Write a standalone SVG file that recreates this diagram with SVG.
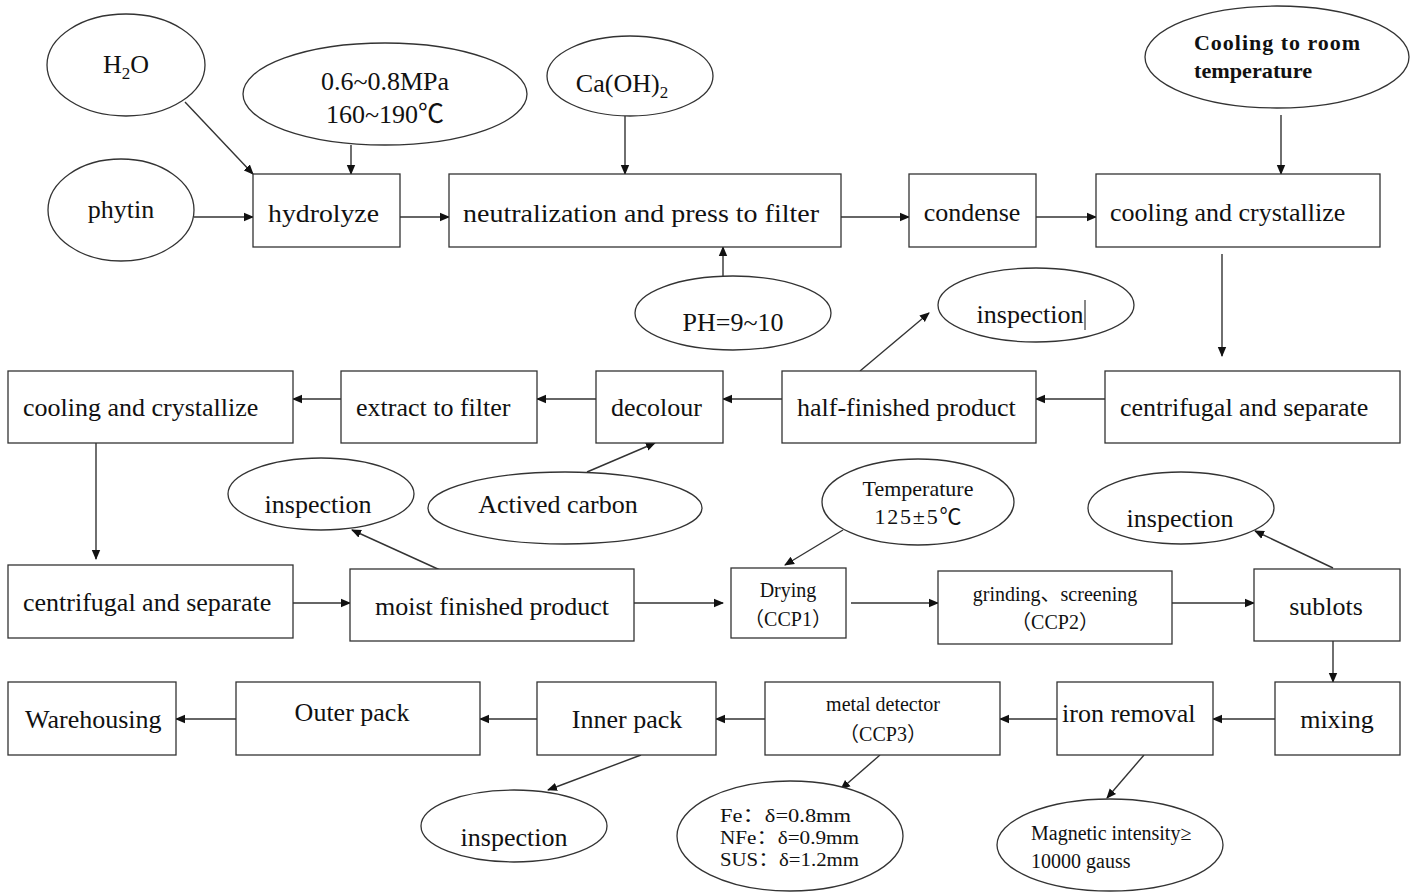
<svg xmlns="http://www.w3.org/2000/svg" width="1418" height="892" viewBox="0 0 1418 892">
<style>
.n{fill:#fff;stroke:#333;stroke-width:1.3}
.t{font-family:"Liberation Serif","Noto Sans CJK SC",serif;font-size:26px;fill:#111;text-anchor:middle}
.s{font-size:20px}
.m{font-size:22px}
.f{font-size:19px}
.l{text-anchor:start}
.b{font-weight:bold}
.c line{stroke:#333;stroke-width:1.4;marker-end:url(#a)}
</style>
<defs>
<marker id="a" markerWidth="10" markerHeight="10" refX="9" refY="5" orient="auto" markerUnits="userSpaceOnUse">
<path d="M0,0.8 L10,5 L0,9.2 Z" fill="#111"/>
</marker>
</defs>
<rect width="1418" height="892" fill="#fff"/>
<g class="c" id="connectors">
<line x1="185" y1="102" x2="253" y2="174"/>
<line x1="351" y1="145" x2="351" y2="174"/>
<line x1="194" y1="217" x2="253" y2="217"/>
<line x1="400" y1="217" x2="449" y2="217"/>
<line x1="625" y1="116" x2="625" y2="174"/>
<line x1="723" y1="276" x2="723" y2="247"/>
<line x1="841" y1="217" x2="909" y2="217"/>
<line x1="1036" y1="217" x2="1096" y2="217"/>
<line x1="1281" y1="115" x2="1281" y2="174"/>
<line x1="1222" y1="254" x2="1222" y2="356"/>
<line x1="1105" y1="399" x2="1036" y2="399"/>
<line x1="782" y1="399" x2="723" y2="399"/>
<line x1="596" y1="399" x2="537" y2="399"/>
<line x1="341" y1="399" x2="293" y2="399"/>
<line x1="860" y1="371" x2="929" y2="313"/>
<line x1="587" y1="472" x2="655" y2="443"/>
<line x1="96" y1="443" x2="96" y2="559"/>
<line x1="293" y1="603" x2="350" y2="603"/>
<line x1="440" y1="570" x2="352" y2="530"/>
<line x1="634" y1="603" x2="723" y2="603"/>
<line x1="843" y1="530" x2="785" y2="565"/>
<line x1="851" y1="603" x2="938" y2="603"/>
<line x1="1172" y1="603" x2="1254" y2="603"/>
<line x1="1333" y1="568" x2="1255" y2="531"/>
<line x1="1333" y1="641" x2="1333" y2="682"/>
<line x1="1275" y1="719" x2="1213" y2="719"/>
<line x1="1057" y1="719" x2="1000" y2="719"/>
<line x1="765" y1="719" x2="716" y2="719"/>
<line x1="537" y1="719" x2="480" y2="719"/>
<line x1="236" y1="719" x2="176" y2="719"/>
<line x1="641" y1="755" x2="548" y2="790"/>
<line x1="880" y1="755" x2="841" y2="789"/>
<line x1="1144" y1="755" x2="1107" y2="798"/>
</g>
<g id="h2o"><ellipse class="n" cx="126" cy="65" rx="79" ry="51"/><text class="t" x="126" y="73">H<tspan font-size="17" dy="6">2</tspan><tspan dy="-6">O</tspan></text></g>
<g id="phytin"><ellipse class="n" cx="121" cy="210" rx="73" ry="51"/><text class="t" x="121" y="218">phytin</text></g>
<g id="pressure"><ellipse class="n" cx="385" cy="94" rx="142" ry="51"/><text class="t" x="385" y="90">0.6~0.8MPa</text><text class="t" x="385" y="123">160~190℃</text></g>
<g id="caoh"><ellipse class="n" cx="630" cy="76" rx="83" ry="40"/><text class="t" x="622" y="92">Ca(OH)<tspan font-size="17" dy="6">2</tspan></text></g>
<g id="hydrolyze"><rect class="n" x="253" y="174" width="147" height="73"/><text class="t l" x="268" y="222" textLength="111" lengthAdjust="spacingAndGlyphs">hydrolyze</text></g>
<g id="neutralization"><rect class="n" x="449" y="174" width="392" height="73"/><text class="t l" x="463" y="222" textLength="356" lengthAdjust="spacingAndGlyphs">neutralization and press to filter</text></g>
<g id="ph"><ellipse class="n" cx="733" cy="313" rx="98" ry="37"/><text class="t" x="733" y="331">PH=9~10</text></g>
<g id="condense"><rect class="n" x="909" y="174" width="127" height="73"/><text class="t" x="972" y="221">condense</text></g>
<g id="cooling1"><rect class="n" x="1096" y="174" width="284" height="73"/><text class="t l" x="1110" y="221">cooling and crystallize</text></g>
<g id="roomtemp"><ellipse class="n" cx="1277" cy="57" rx="132" ry="51"/><text class="t m l b" x="1194" y="50" textLength="166" lengthAdjust="spacing">Cooling to room</text><text class="t m l b" x="1194" y="78" textLength="118" lengthAdjust="spacingAndGlyphs">temperature</text></g>
<g id="inspection1"><ellipse class="n" cx="1036" cy="305" rx="98" ry="37"/><text class="t" x="1030" y="323">inspection</text><line x1="1085" y1="300" x2="1085" y2="330" stroke="#111" stroke-width="1"/></g>
<g id="centrifugal1"><rect class="n" x="1105" y="371" width="295" height="72"/><text class="t l" x="1120" y="416">centrifugal and separate</text></g>
<g id="halffinished"><rect class="n" x="782" y="371" width="254" height="72"/><text class="t l" x="797" y="416">half-finished product</text></g>
<g id="decolour"><rect class="n" x="596" y="371" width="127" height="72"/><text class="t l" x="611" y="416">decolour</text></g>
<g id="extract"><rect class="n" x="341" y="371" width="196" height="72"/><text class="t l" x="356" y="416">extract to filter</text></g>
<g id="cooling2"><rect class="n" x="8" y="371" width="285" height="72"/><text class="t l" x="23" y="416">cooling and crystallize</text></g>
<g id="carbon"><ellipse class="n" cx="565" cy="508" rx="137" ry="36"/><text class="t" x="558" y="513">Actived carbon</text></g>
<g id="inspection2"><ellipse class="n" cx="321" cy="494" rx="93" ry="36"/><text class="t" x="318" y="513">inspection</text></g>
<g id="centrifugal2"><rect class="n" x="8" y="565" width="285" height="73"/><text class="t l" x="23" y="611">centrifugal and separate</text></g>
<g id="moist"><rect class="n" x="350" y="569" width="284" height="72"/><text class="t" x="492" y="615">moist finished product</text></g>
<g id="temperature"><ellipse class="n" cx="918" cy="502" rx="96" ry="43"/><text class="t m" x="918" y="496">Temperature</text><text class="t m" x="918" y="524" textLength="87" lengthAdjust="spacing">125±5℃</text></g>
<g id="drying"><rect class="n" x="731" y="568" width="115" height="70"/><text class="t s" x="788" y="597">Drying</text><text class="t s" x="788" y="626">（CCP1）</text></g>
<g id="grinding"><rect class="n" x="938" y="571" width="234" height="73"/><text class="t s" x="1055" y="601">grinding、screening</text><text class="t s" x="1055" y="629">（CCP2）</text></g>
<g id="sublots"><rect class="n" x="1254" y="569" width="146" height="72"/><text class="t" x="1326" y="615">sublots</text></g>
<g id="inspection3"><ellipse class="n" cx="1181" cy="508" rx="93" ry="36"/><text class="t" x="1180" y="527">inspection</text></g>
<g id="mixing"><rect class="n" x="1275" y="682" width="125" height="73"/><text class="t" x="1337" y="728">mixing</text></g>
<g id="ironremoval"><rect class="n" x="1057" y="682" width="156" height="73"/><text class="t l" x="1062" y="722">iron removal</text></g>
<g id="metaldetector"><rect class="n" x="765" y="682" width="235" height="73"/><text class="t s" x="883" y="711">metal detector</text><text class="t s" x="883" y="741">（CCP3）</text></g>
<g id="innerpack"><rect class="n" x="537" y="682" width="179" height="73"/><text class="t" x="627" y="728">Inner pack</text></g>
<g id="outerpack"><rect class="n" x="236" y="682" width="244" height="73"/><text class="t" x="352" y="721">Outer pack</text></g>
<g id="warehousing"><rect class="n" x="8" y="682" width="168" height="73"/><text class="t l" x="25" y="728">Warehousing</text></g>
<g id="inspection4"><ellipse class="n" cx="514" cy="826" rx="93" ry="36"/><text class="t" x="514" y="846">inspection</text></g>
<g id="metalspec"><ellipse class="n" cx="790" cy="836" rx="113" ry="55"/><text class="t f l" x="720" y="822" textLength="131" lengthAdjust="spacingAndGlyphs">Fe：δ=0.8mm</text><text class="t f l" x="720" y="844" textLength="139" lengthAdjust="spacingAndGlyphs">NFe：δ=0.9mm</text><text class="t f l" x="720" y="866" textLength="139" lengthAdjust="spacingAndGlyphs">SUS：δ=1.2mm</text></g>
<g id="magnetic"><ellipse class="n" cx="1110" cy="845" rx="113" ry="46"/><text class="t s l" x="1031" y="840">Magnetic intensity≥</text><text class="t s l" x="1031" y="868">10000 gauss</text></g>
</svg>
